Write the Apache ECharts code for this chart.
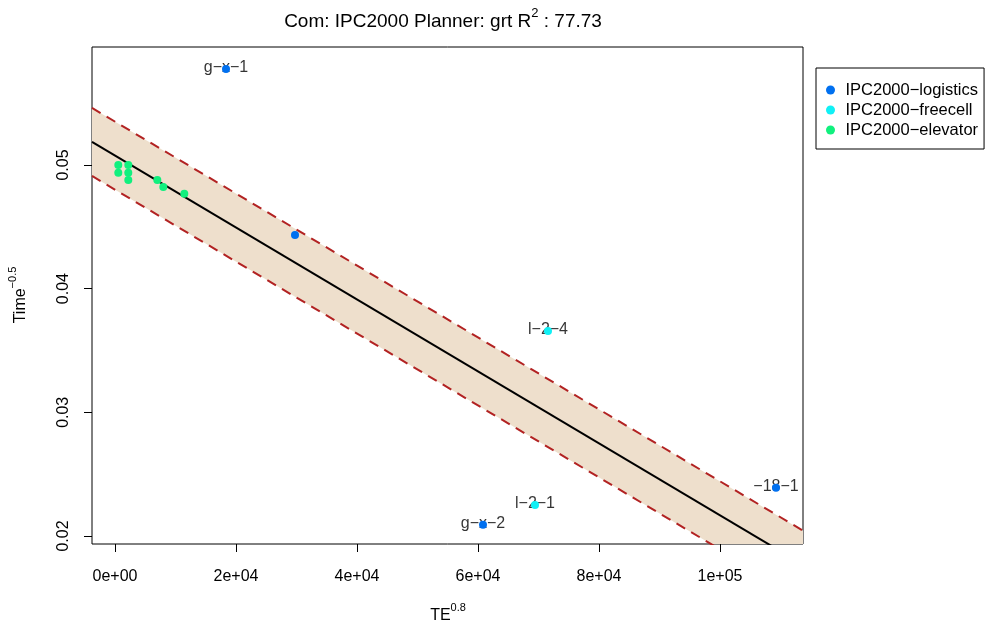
<!DOCTYPE html>
<html><head><meta charset="utf-8">
<script src="https://cdn.jsdelivr.net/npm/echarts@6/dist/echarts.min.js"></script>
<style>html,body{margin:0;padding:0;background:#fff}#c{width:988px;height:628px}</style>
</head><body><div id="c"></div>
<script>
const xTicks = [0, 20000, 40000, 60000, 80000, 100000];
const xTickLabels = ['0e+00', '2e+04', '4e+04', '6e+04', '8e+04', '1e+05'];
const yTicks = [0.02, 0.03, 0.04, 0.05];
const yTickLabels = ['0.02', '0.03', '0.04', '0.05'];

const logisticsX = [18347, 29752, 60826, 109256];
const logisticsY = [0.05776, 0.04434, 0.02090, 0.02389];
const freecellX = [71570, 69421];
const freecellY = [0.03658, 0.02251];
const elevatorX = [545, 2198, 545, 2198, 2198, 6992, 7983, 11455];
const elevatorY = [0.0500, 0.0500, 0.04938, 0.04938, 0.04879, 0.04879, 0.04822, 0.04768];

const labelNames = ['g−x−1', 'g−x−2', '−18−1', 'l−2−4', 'l−2−1'];
const labelX = [18347, 60826, 109256, 71570, 69421];
const labelY = [0.05776, 0.02090, 0.02389, 0.03658, 0.02251];

const fitX = [-3802, 113719];
const fitY = [0.05186, 0.01768];
const upperY = [0.05461, 0.02043];
const lowerY = [0.04911, 0.01493];

const xMin = -3802, xMax = 113719, yMin = 0.01935, yMax = 0.05954;

const FONT = 'Liberation Sans, Arial, Helvetica, sans-serif';
const zip = (a, b) => a.map((v, i) => [v, b[i]]);
const C_LOG = '#0070F0', C_FREE = '#10F0F5', C_ELEV = '#10F07E';

const chart = echarts.init(document.getElementById('c'));
chart.setOption({
  animation: false,
  backgroundColor: '#fff',
  textStyle: { fontFamily: FONT },
  grid: { left: 92, right: 185, top: 47, bottom: 84, show: true, borderColor: '#000', borderWidth: 1, backgroundColor: 'transparent' },
  xAxis: {
    type: 'value', min: xMin, max: xMax,
    axisLine: { show: false, onZero: false }, splitLine: { show: false },
    axisTick: { show: true, inside: false, length: 8, customValues: xTicks, lineStyle: { color: '#000', width: 1 } },
    axisLabel: { customValues: xTicks, margin: 25, fontSize: 16, color: '#000', fontFamily: FONT,
      formatter: v => { const i = xTicks.findIndex(t => Math.abs(t - v) < 1e-6); return i >= 0 ? xTickLabels[i] : ''; } }
  },
  yAxis: {
    type: 'value', min: yMin, max: yMax,
    axisLine: { show: false, onZero: false }, splitLine: { show: false },
    axisTick: { show: true, inside: false, length: 8, customValues: yTicks, lineStyle: { color: '#000', width: 1 } },
    axisLabel: { customValues: yTicks, margin: 20, fontSize: 16, color: '#000', rotate: 90, fontFamily: FONT,
      formatter: v => { const i = yTicks.findIndex(t => Math.abs(t - v) < 1e-9); return i >= 0 ? yTickLabels[i] : ''; } }
  },
  legend: {
    data: ['IPC2000−logistics', 'IPC2000−freecell', 'IPC2000−elevator'],
    orient: 'vertical', left: 816, top: 68,
    borderColor: '#000', borderWidth: 1, borderRadius: 0,
    padding: [12, 6, 9, 10], itemGap: 0, itemWidth: 20, itemHeight: 9, icon: 'circle',
    textStyle: { fontSize: 16.5, color: '#000', lineHeight: 20, fontFamily: FONT }
  },
  graphic: [
    { type: 'text', x: 443, y: 19, style: {
      text: '{a|Com: IPC2000 Planner: grt R}{s|2}{a| : 77.73}', align: 'center', verticalAlign: 'middle',
      rich: { a: { fontSize: 19, fontFamily: FONT, fill: '#000', lineHeight: 24, verticalAlign: 'bottom' },
              s: { fontSize: 13, fontFamily: FONT, fill: '#000', lineHeight: 24, verticalAlign: 'top', padding: [0, 0, 9, 0] } } } },
    { type: 'text', x: 448, y: 613, style: {
      text: '{a|TE}{s|0.8}', align: 'center', verticalAlign: 'middle',
      rich: { a: { fontSize: 16, fontFamily: FONT, fill: '#000', lineHeight: 22, verticalAlign: 'bottom' },
              s: { fontSize: 11, fontFamily: FONT, fill: '#000', lineHeight: 22, verticalAlign: 'top', padding: [0, 0, 8, 0] } } } },
    { type: 'text', x: 18, y: 295, rotation: Math.PI / 2, style: {
      text: '{a|Time}{s|−0.5}', align: 'center', verticalAlign: 'middle',
      rich: { a: { fontSize: 16, fontFamily: FONT, fill: '#000', lineHeight: 22, verticalAlign: 'bottom' },
              s: { fontSize: 11, fontFamily: FONT, fill: '#000', lineHeight: 22, verticalAlign: 'top', padding: [0, 0, 8, 0] } } } }
  ],
  series: [
    { name: 'band', type: 'custom', silent: true, z: 1, data: [[fitX[0], fitY[0]]],
      renderItem: (params, api) => {
        const pts = [];
        for (let i = 0; i < fitX.length; i++) pts.push(api.coord([fitX[i], upperY[i]]));
        for (let i = fitX.length - 1; i >= 0; i--) pts.push(api.coord([fitX[i], lowerY[i]]));
        const cs = params.coordSys;
        return { type: 'polygon', shape: { points: pts }, style: { fill: '#EEDFCC' },
          clipPath: { type: 'rect', shape: { x: cs.x, y: cs.y, width: cs.width, height: cs.height } } };
      } },
    { name: 'upper', type: 'line', data: zip(fitX, upperY), symbol: 'none',
      lineStyle: { color: '#B22222', width: 2, type: [10, 7] }, silent: true, z: 2 },
    { name: 'lower', type: 'line', data: zip(fitX, lowerY), symbol: 'none',
      lineStyle: { color: '#B22222', width: 2, type: [10, 7] }, silent: true, z: 2 },
    { name: 'fit', type: 'line', data: zip(fitX, fitY), symbol: 'none',
      lineStyle: { color: '#000', width: 2 }, silent: true, z: 3 },
    { name: 'labels', type: 'scatter', data: labelX.map((x, i) => ({ value: [x, labelY[i]], name: labelNames[i] })),
      symbolSize: 1, itemStyle: { color: 'rgba(0,0,0,0)' }, z: 4, silent: true,
      label: { show: true, position: 'inside', offset: [0, -1], formatter: p => p.name, fontSize: 16, color: '#000', textBorderWidth: 0, fontFamily: FONT } },
    { name: 'IPC2000−logistics', type: 'scatter', data: zip(logisticsX, logisticsY), symbolSize: 8, itemStyle: { color: C_LOG, opacity: 1 }, z: 5 },
    { name: 'IPC2000−freecell', type: 'scatter', data: zip(freecellX, freecellY), symbolSize: 8, itemStyle: { color: C_FREE, opacity: 1 }, z: 5 },
    { name: 'IPC2000−elevator', type: 'scatter', data: zip(elevatorX, elevatorY), symbolSize: 8, itemStyle: { color: C_ELEV, opacity: 1 }, z: 5 }
  ]
});
</script></body></html>
